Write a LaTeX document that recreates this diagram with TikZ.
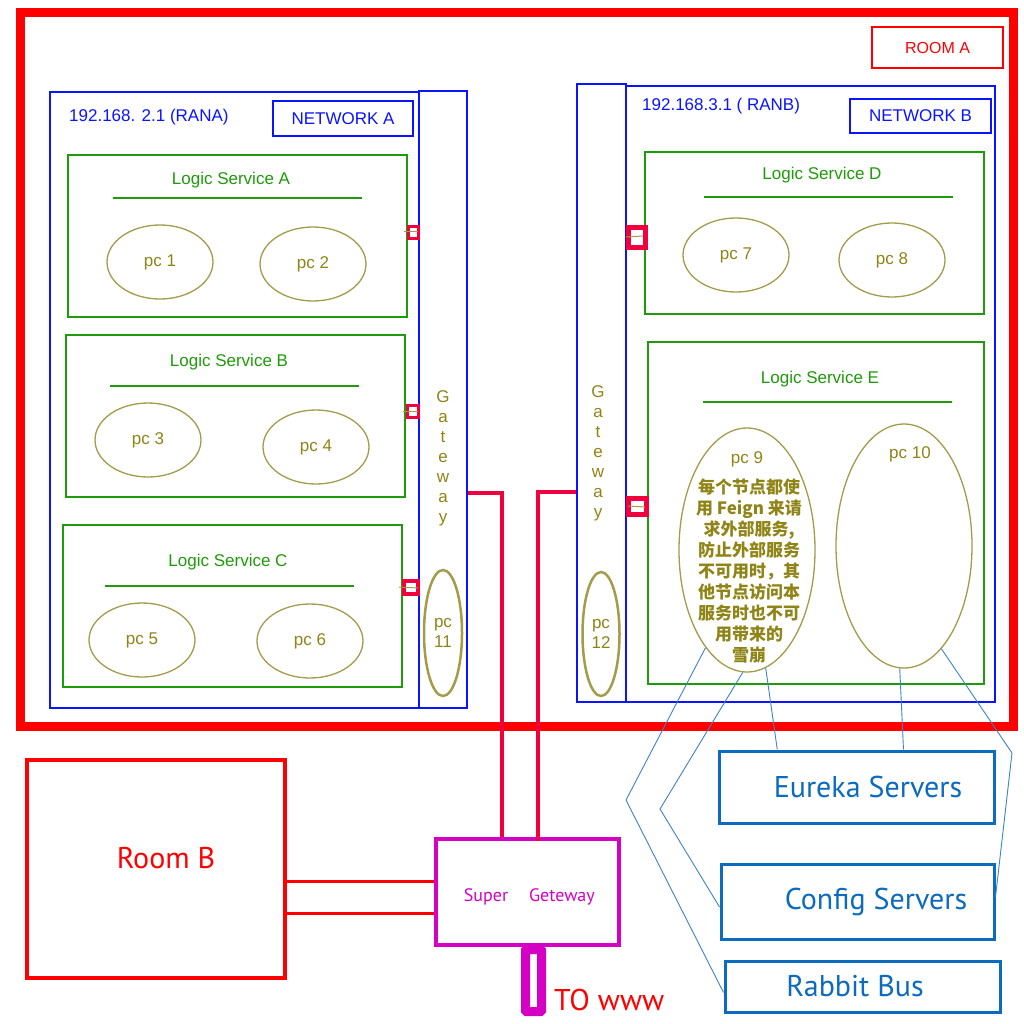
\documentclass[tikz,border=0pt]{standalone}
\usepackage{fontspec}
\setmainfont{Liberation Sans}
\newfontfamily\myr{PT Sans}
\newfontfamily\cjk{Noto Sans CJK SC}
\usetikzlibrary{fit,calc,shapes.geometric}
\definecolor{roomred}{HTML}{FF0000}
\definecolor{linkred}{HTML}{F0003C}
\definecolor{netblue}{HTML}{0A14FF}
\definecolor{lsgreen}{HTML}{1E9B0A}
\definecolor{olivetxt}{HTML}{8F8416}
\definecolor{ellol}{HTML}{A39C4A}
\definecolor{sgmag}{HTML}{D400C4}
\definecolor{srvblue}{HTML}{0B6BBF}
\definecolor{thinblue}{HTML}{3C82CC}
\begin{document}
\begin{tikzpicture}[x=1pt,y=-1pt,
  netbox/.style={draw=netblue, line width=2.5pt, inner sep=0},
  nettext/.style={text=netblue, font=\fontsize{17}{20}\selectfont, inner sep=0},
  lsbox/.style={draw=lsgreen, line width=2.5pt, inner sep=0},
  lstext/.style={text=lsgreen, font=\fontsize{17}{20}\selectfont, inner sep=0},
  lsline/.style={draw=lsgreen, line width=1.2pt},
  pcnode/.style={ellipse, draw=ellol, line width=1.3pt, text=olivetxt, font=\fontsize{17}{20}\selectfont, inner sep=0, minimum width=106pt, minimum height=74pt},
  pcthick/.style={ellipse, draw=ellol, line width=2.5pt, text=olivetxt, font=\fontsize{17}{20}\selectfont, inner sep=0, align=center},
  gwtext/.style={text=olivetxt, font=\fontsize{17}{20}\selectfont, align=center, inner sep=0},
  port/.style={draw=linkred, inner sep=0},
  portline/.style={draw=ellol, line width=1pt},
  link/.style={draw=linkred, line width=4pt},
  roomlink/.style={draw=roomred, line width=3pt},
  srv/.style={draw=srvblue, line width=3pt, inner sep=0, text=srvblue, font=\myr\fontsize{30}{32}\selectfont},
  thin/.style={draw=thinblue, line width=0.9pt},
  sgtext/.style={text=sgmag, font=\myr\fontsize{18}{20}\selectfont, inner sep=0}
]
\useasboundingbox[fill=white] (0,0) rectangle (1024,1024);

% Room A
\node[draw=roomred, line width=9pt, inner sep=0, fit={(20,13)(1013,726)}] (roomA) {};
\node[draw=roomred, line width=2pt, minimum width=131pt, minimum height=41pt, text=roomred, font=\fontsize{16}{18}\selectfont] (roomAlbl) at (937.5,47.5) {ROOM A};

% Network A
\node[netbox, fit={(50,92)(419,708)}] (netA) {};
\node[netbox, fit={(419,91)(467,708)}] (gwA) {};
\node[nettext, anchor=west] (ipA) at (69,117) {192.168. 2.1 (RANA)};
\node[netbox, line width=1.5pt, minimum width=140pt, minimum height=35pt, text=netblue, font=\fontsize{17}{20}\selectfont] (nwA) at (343,118.5) {NETWORK A};

\node[lsbox, fit={(68,155)(407,317)}] (lsA) {};
\node[lstext] (lsAt) at (231,180) {Logic Service A};
\draw[lsline] (113,198) -- (362,198);
\node[pcnode] (pc1) at (160,262) {pc 1};
\node[pcnode] (pc2) at (313,264) {pc 2};

\node[lsbox, fit={(66,335)(405,497)}] (lsB) {};
\node[lstext] (lsBt) at (229,362) {Logic Service B};
\draw[lsline] (110,386) -- (359,386);
\node[pcnode] (pc3) at (148,440) {pc 3};
\node[pcnode] (pc4) at (316,447) {pc 4};

\node[lsbox, fit={(63,525)(402,687)}] (lsC) {};
\node[lstext] (lsCt) at (228,562) {Logic Service C};
\draw[lsline] (105,586) -- (354,586);
\node[pcnode] (pc5) at (142,640) {pc 5};
\node[pcnode] (pc6) at (310,641) {pc 6};

\node[port, line width=3pt, fit={(408,227)(418,238)}] (pA) {};
\draw[portline] (404,232) -- (418,232);
\node[port, line width=3pt, fit={(407,405)(418,417)}] (pB) {};
\draw[portline] (403,411) -- (418,411);
\node[port, line width=4pt, fit={(404,581)(418,594)}] (pC) {};
\draw[portline] (399,587) -- (418,588);

\node[gwtext] (gwAt) at (443,458) {G\\a\\t\\e\\w\\a\\y};
\node[pcthick, minimum width=38pt, minimum height=126pt] (pc11) at (443,633) {pc\\11};

% Network B
\node[netbox, fit={(577,84)(626,702)}] (gwB) {};
\node[netbox, fit={(626,86)(995,702)}] (netB) {};
\node[nettext, anchor=west] (ipB) at (642,106) {192.168.3.1 ( RANB)};
\node[netbox, line width=1.5pt, minimum width=141pt, minimum height=34pt, text=netblue, font=\fontsize{17}{20}\selectfont] (nwB) at (920.5,116) {NETWORK B};

\node[lsbox, fit={(645,152)(984,314)}] (lsD) {};
\node[lstext] (lsDt) at (822,175) {Logic Service D};
\draw[lsline] (704,197) -- (953,197);
\node[pcnode] (pc7) at (736,255) {pc 7};
\node[pcnode] (pc8) at (892,260) {pc 8};

\node[lsbox, fit={(648,342)(984,684)}] (lsE) {};
\node[lstext] (lsEt) at (820,379) {Logic Service E};
\draw[lsline] (703,402) -- (952,402);
\node[pcnode, minimum width=136pt, minimum height=244pt] (pc9) at (747,550) {};
\node[text=olivetxt, font=\fontsize{17}{20}\selectfont, inner sep=0] (pc9t) at (747,459) {pc 9};
\node[text=olivetxt, font=\cjk\bfseries\fontsize{17}{21}\selectfont, align=center, inner sep=0] (pc9c) at (749,571)
  {每个节点都使\\用 Feign 来请\\求外部服务,\\防止外部服务\\不可用时，其\\他节点访问本\\服务时也不可\\用带来的\\雪崩};
\node[pcnode, minimum width=136pt, minimum height=244pt] (pc10) at (904,546) {};
\node[text=olivetxt, font=\fontsize{17}{20}\selectfont, inner sep=0] (pc10t) at (910,454) {pc 10};

\node[port, line width=5pt, fit={(628,228)(645,247)}] (pD) {};
\draw[portline] (626,237) -- (643,236);
\node[port, line width=5pt, fit={(628,498)(646,514)}] (pE) {};
\draw[portline] (628,506) -- (645,507);

\node[gwtext] (gwBt) at (598,453) {G\\a\\t\\e\\w\\a\\y};
\node[pcthick, minimum width=37pt, minimum height=124pt] (pc12) at (601,634) {pc\\12};

% Super Geteway
\node[draw=sgmag, line width=4pt, inner sep=0, fit={(436,839)(619,945)}] (sg) {};
\node[sgtext] (sgt1) at (486,897) {Super};
\node[sgtext] (sgt2) at (562,897) {Geteway};
\node[draw=sgmag, line width=9pt, inner sep=0, rounded corners=1pt, fit={(525.5,949.5)(541.5,1011.5)}] (www) {};
\node[text=roomred, font=\myr\fontsize{30}{32}\selectfont, anchor=west, inner sep=0] (wwwt) at (554,1000) {TO www};

% gateway links
\coordinate (jA) at (502,493);
\coordinate (jB) at (538,492);
\draw[link] (gwA.east |- jA) -- (jA) -- (jA |- sg.north);
\draw[link] (gwB.west |- jB) -- (jB) -- ([yshift=-4pt]jB |- sg.north);

% Room B
\node[draw=roomred, line width=4pt, inner sep=0, fit={(27,760)(285,978)}] (roomB) {};
\node[text=roomred, font=\myr\fontsize{30}{32}\selectfont, inner sep=0] (roomBt) at (166,858) {Room B};
\coordinate (rb1) at ($(roomB.north east)!0.555!(roomB.south east)$);
\coordinate (rb2) at ($(roomB.north east)!0.702!(roomB.south east)$);
\draw[roomlink] (rb1) -- (rb1 -| sg.west);
\draw[roomlink] (rb2) -- (rb2 -| sg.west);

% Servers
\node[srv, minimum width=275pt, minimum height=72pt] (eu) at (856.5,787) {\hspace*{23pt}Eureka Servers};
\node[srv, minimum width=273pt, minimum height=75pt] (cs) at (857.5,901.5) {\hspace*{37pt}Config Servers};
\node[srv, minimum width=275pt, minimum height=51pt] (rb) at (862.5,986.5) {Rabbit Bus\hspace*{15pt}};

% thin connectors
\coordinate (b1) at (626,800);
\coordinate (b2) at (660,809);
\coordinate (b3) at (1012,753);
\draw[thin] (pc9.247) -- (b1) -- ($(rb.north west)!0.61!(rb.south west)$);
\draw[thin] (pc9.268) -- (b2) -- ($(cs.north west)!0.57!(cs.south west)$);
\draw[thin] (pc9.279) -- ($(eu.north west)!0.215!(eu.north east)$);
\draw[thin] (pc10.268) -- ($(eu.north west)!0.669!(eu.north east)$);
\draw[thin] (pc10.290) -- (b3) -- ($(cs.north east)!0.44!(cs.south east)$);
\end{tikzpicture}
\end{document}
